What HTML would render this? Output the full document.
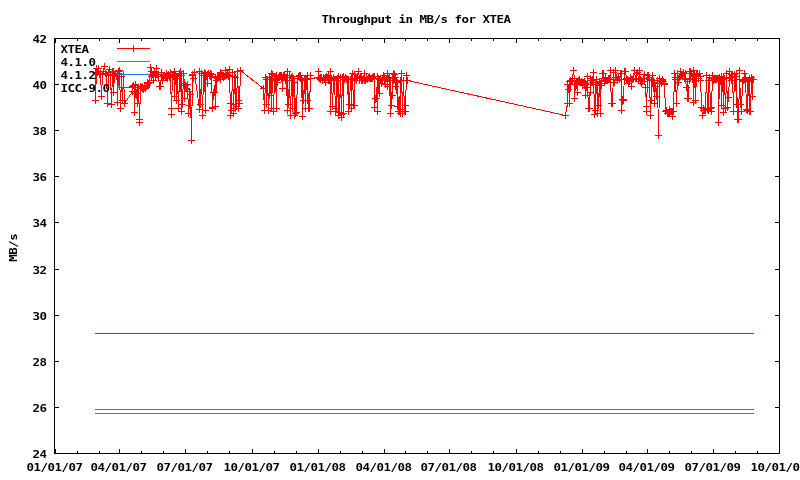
<!DOCTYPE html>
<html><head><meta charset="utf-8"><title>Throughput in MB/s for XTEA</title>
<style>
html,body{margin:0;padding:0;background:#fff;overflow:hidden}
svg{display:block}
</style></head>
<body>
<svg width="800" height="480" viewBox="0 0 800 480">
<rect width="800" height="480" fill="#fff"/>
<g shape-rendering="crispEdges" fill="none" stroke-width="1">
<polyline stroke="#f00" points="95.5,72.5 95.5,100.5 96.5,68.5 97.5,72.5 98.5,68.5 99.5,74.5 100.5,73.5 101.5,96.5 102.5,74.5 103.5,71.5 104.5,66.5 105.5,73.5 106.5,74.5 107.5,103.5 108.5,72.5 109.5,69.5 110.5,75.5 111.5,104.5 112.5,71.5 113.5,71.5 113.5,92.5 114.5,74.5 115.5,73.5 116.5,76.5 117.5,73.5 117.5,102.5 118.5,71.5 119.5,70.5 120.5,108.5 121.5,76.5 122.5,100.5 123.5,74.5 124.5,103.5 132.5,91.5 132.5,86.5 133.5,85.5 134.5,87.5 134.5,112.5 135.5,84.5 136.5,93.5 137.5,103.5 137.5,87.5 138.5,87.5 139.5,119.5 139.5,122.5 140.5,86.5 141.5,87.5 142.5,88.5 142.5,86.5 143.5,89.5 144.5,85.5 144.5,87.5 145.5,88.5 146.5,86.5 147.5,85.5 147.5,82.5 148.5,83.5 149.5,82.5 150.5,67.5 151.5,76.5 151.5,71.5 152.5,74.5 153.5,80.5 153.5,75.5 154.5,71.5 155.5,76.5 156.5,68.5 156.5,74.5 157.5,74.5 158.5,74.5 158.5,76.5 159.5,86.5 160.5,86.5 161.5,74.5 161.5,72.5 162.5,80.5 163.5,76.5 163.5,75.5 164.5,75.5 165.5,77.5 166.5,73.5 166.5,77.5 167.5,78.5 168.5,74.5 169.5,76.5 169.5,77.5 170.5,72.5 171.5,114.5 171.5,108.5 172.5,75.5 173.5,76.5 174.5,71.5 174.5,96.5 175.5,74.5 176.5,76.5 176.5,100.5 177.5,78.5 178.5,108.5 179.5,75.5 179.5,73.5 180.5,71.5 181.5,111.5 181.5,75.5 182.5,104.5 183.5,73.5 184.5,83.5 184.5,98.5 185.5,85.5 186.5,88.5 187.5,89.5 187.5,84.5 188.5,113.5 189.5,91.5 189.5,105.5 190.5,94.5 191.5,140.5 192.5,74.5 192.5,75.5 193.5,78.5 194.5,72.5 199.5,109.5 199.5,71.5 200.5,104.5 201.5,73.5 202.5,115.5 202.5,115.5 203.5,75.5 204.5,72.5 205.5,110.5 205.5,73.5 206.5,75.5 207.5,83.5 207.5,74.5 208.5,73.5 209.5,75.5 210.5,73.5 210.5,76.5 211.5,74.5 212.5,108.5 212.5,107.5 213.5,92.5 214.5,92.5 215.5,77.5 215.5,106.5 216.5,80.5 217.5,78.5 217.5,76.5 218.5,77.5 219.5,77.5 220.5,79.5 220.5,72.5 221.5,73.5 222.5,76.5 223.5,76.5 223.5,77.5 224.5,76.5 225.5,70.5 225.5,75.5 226.5,75.5 227.5,74.5 228.5,75.5 228.5,76.5 229.5,69.5 230.5,115.5 230.5,103.5 231.5,110.5 232.5,72.5 233.5,104.5 233.5,113.5 234.5,76.5 235.5,108.5 235.5,77.5 236.5,106.5 237.5,71.5 238.5,100.5 238.5,108.5 239.5,103.5 240.5,70.5 263.5,88.5 264.5,110.5 264.5,110.5 265.5,77.5 266.5,104.5 266.5,79.5 267.5,79.5 268.5,110.5 269.5,77.5 269.5,95.5 270.5,79.5 271.5,108.5 271.5,73.5 272.5,74.5 273.5,111.5 274.5,78.5 274.5,80.5 275.5,76.5 276.5,108.5 276.5,75.5 277.5,82.5 278.5,77.5 279.5,77.5 279.5,75.5 280.5,75.5 281.5,75.5 282.5,88.5 282.5,79.5 283.5,75.5 284.5,74.5 284.5,76.5 285.5,80.5 286.5,80.5 287.5,110.5 287.5,71.5 288.5,104.5 289.5,75.5 289.5,80.5 290.5,115.5 291.5,77.5 292.5,108.5 292.5,76.5 293.5,78.5 294.5,115.5 294.5,82.5 295.5,113.5 296.5,112.5 297.5,78.5 297.5,78.5 298.5,76.5 299.5,75.5 300.5,75.5 300.5,78.5 301.5,79.5 302.5,116.5 302.5,80.5 303.5,100.5 304.5,79.5 305.5,108.5 305.5,79.5 306.5,79.5 307.5,100.5 307.5,75.5 308.5,108.5 309.5,108.5 310.5,75.5 310.5,78.5 318.5,77.5 318.5,71.5 319.5,78.5 320.5,77.5 320.5,79.5 321.5,77.5 322.5,80.5 323.5,77.5 323.5,77.5 324.5,78.5 325.5,77.5 325.5,82.5 326.5,76.5 327.5,77.5 328.5,80.5 328.5,75.5 329.5,80.5 330.5,71.5 330.5,111.5 331.5,78.5 332.5,106.5 333.5,79.5 333.5,77.5 334.5,79.5 335.5,111.5 336.5,80.5 336.5,108.5 337.5,78.5 338.5,115.5 338.5,76.5 339.5,112.5 340.5,77.5 341.5,117.5 341.5,114.5 342.5,77.5 343.5,113.5 343.5,76.5 344.5,79.5 345.5,77.5 346.5,78.5 346.5,79.5 347.5,79.5 348.5,111.5 348.5,79.5 349.5,104.5 350.5,79.5 351.5,78.5 351.5,108.5 352.5,73.5 353.5,105.5 354.5,105.5 354.5,74.5 355.5,78.5 356.5,78.5 356.5,80.5 357.5,76.5 358.5,71.5 359.5,78.5 359.5,80.5 360.5,76.5 361.5,77.5 361.5,80.5 362.5,80.5 363.5,78.5 364.5,73.5 364.5,80.5 365.5,80.5 366.5,77.5 366.5,78.5 367.5,79.5 368.5,77.5 369.5,78.5 369.5,76.5 370.5,78.5 371.5,78.5 372.5,78.5 372.5,77.5 373.5,76.5 374.5,76.5 374.5,107.5 375.5,98.5 376.5,98.5 377.5,76.5 377.5,111.5 378.5,78.5 379.5,93.5 379.5,79.5 380.5,79.5 381.5,83.5 382.5,78.5 382.5,80.5 383.5,75.5 384.5,77.5 384.5,79.5 385.5,84.5 386.5,78.5 387.5,73.5 387.5,86.5 388.5,78.5 389.5,77.5 390.5,113.5 390.5,80.5 391.5,105.5 392.5,78.5 392.5,95.5 393.5,73.5 394.5,74.5 395.5,86.5 395.5,77.5 396.5,81.5 397.5,106.5 397.5,82.5 398.5,111.5 399.5,111.5 400.5,80.5 400.5,113.5 401.5,73.5 402.5,109.5 402.5,113.5 403.5,80.5 404.5,111.5 405.5,111.5 405.5,105.5 406.5,75.5 407.5,80.5 565.5,115.5 567.5,103.5 567.5,84.5 568.5,89.5 569.5,81.5 569.5,103.5 570.5,80.5 571.5,81.5 572.5,81.5 572.5,78.5 573.5,70.5 574.5,78.5 574.5,98.5 575.5,84.5 576.5,84.5 577.5,92.5 577.5,83.5 578.5,80.5 579.5,82.5 579.5,79.5 580.5,82.5 581.5,81.5 582.5,85.5 582.5,82.5 583.5,82.5 584.5,81.5 585.5,95.5 585.5,83.5 586.5,87.5 587.5,76.5 587.5,84.5 588.5,108.5 589.5,108.5 590.5,78.5 590.5,92.5 591.5,80.5 592.5,82.5 592.5,80.5 593.5,72.5 594.5,114.5 595.5,82.5 595.5,110.5 596.5,79.5 597.5,84.5 597.5,113.5 598.5,105.5 599.5,81.5 600.5,113.5 600.5,83.5 601.5,85.5 602.5,73.5 603.5,73.5 603.5,78.5 604.5,81.5 605.5,77.5 605.5,80.5 606.5,80.5 607.5,80.5 608.5,79.5 608.5,78.5 609.5,79.5 610.5,70.5 610.5,79.5 611.5,103.5 612.5,103.5 613.5,72.5 613.5,79.5 614.5,82.5 615.5,77.5 615.5,70.5 616.5,77.5 617.5,80.5 618.5,77.5 618.5,76.5 619.5,79.5 620.5,73.5 621.5,73.5 621.5,110.5 622.5,99.5 623.5,99.5 623.5,100.5 624.5,71.5 625.5,71.5 626.5,78.5 626.5,79.5 627.5,79.5 628.5,83.5 628.5,80.5 629.5,81.5 630.5,77.5 631.5,79.5 631.5,86.5 632.5,79.5 633.5,78.5 633.5,78.5 634.5,70.5 635.5,78.5 636.5,78.5 636.5,73.5 637.5,72.5 638.5,79.5 639.5,74.5 639.5,70.5 640.5,81.5 641.5,83.5 641.5,80.5 642.5,81.5 643.5,78.5 644.5,74.5 644.5,81.5 645.5,87.5 646.5,106.5 646.5,111.5 647.5,75.5 648.5,75.5 649.5,77.5 649.5,79.5 650.5,115.5 651.5,80.5 651.5,100.5 652.5,75.5 653.5,80.5 654.5,103.5 654.5,82.5 655.5,86.5 656.5,96.5 657.5,80.5 657.5,80.5 658.5,135.5 659.5,83.5 659.5,78.5 660.5,81.5 661.5,83.5 662.5,79.5 662.5,80.5 663.5,81.5 664.5,84.5 664.5,83.5 665.5,111.5 666.5,110.5 667.5,113.5 667.5,113.5 668.5,113.5 669.5,112.5 669.5,109.5 670.5,111.5 671.5,111.5 672.5,111.5 672.5,116.5 673.5,111.5 674.5,73.5 675.5,77.5 675.5,79.5 676.5,103.5 677.5,77.5 677.5,73.5 678.5,82.5 679.5,77.5 680.5,71.5 680.5,76.5 681.5,75.5 682.5,74.5 682.5,74.5 683.5,72.5 684.5,78.5 685.5,73.5 685.5,79.5 686.5,87.5 687.5,81.5 687.5,98.5 688.5,98.5 689.5,71.5 690.5,78.5 690.5,71.5 691.5,73.5 692.5,79.5 693.5,70.5 693.5,102.5 694.5,74.5 695.5,78.5 695.5,100.5 696.5,74.5 697.5,73.5 698.5,78.5 698.5,78.5 699.5,73.5 700.5,80.5 700.5,76.5 701.5,107.5 702.5,115.5 703.5,108.5 703.5,110.5 704.5,110.5 705.5,110.5 705.5,110.5 706.5,75.5 707.5,109.5 708.5,110.5 708.5,80.5 709.5,77.5 710.5,108.5 711.5,111.5 711.5,107.5 712.5,75.5 713.5,78.5 713.5,80.5 714.5,79.5 715.5,79.5 716.5,78.5 716.5,79.5 717.5,78.5 718.5,78.5 718.5,122.5 719.5,77.5 720.5,81.5 721.5,76.5 721.5,105.5 722.5,79.5 723.5,77.5 723.5,112.5 724.5,78.5 725.5,108.5 726.5,78.5 726.5,73.5 727.5,107.5 728.5,97.5 729.5,77.5 729.5,71.5 730.5,77.5 731.5,74.5 731.5,80.5 732.5,74.5 733.5,111.5 734.5,74.5 734.5,76.5 735.5,76.5 736.5,104.5 736.5,73.5 737.5,119.5 738.5,119.5 739.5,79.5 739.5,70.5 740.5,104.5 741.5,111.5 741.5,111.5 742.5,81.5 743.5,80.5 744.5,79.5 744.5,73.5 745.5,77.5 746.5,109.5 747.5,81.5 747.5,110.5 748.5,80.5 749.5,111.5 749.5,78.5 750.5,111.5 751.5,77.5 752.5,96.5 752.5,79.5 753.5,79.5"/>
<path stroke="#f00" d="M92 72.5h7M95.5 69v7M92 100.5h7M95.5 97v7M93 68.5h7M96.5 65v7M94 72.5h7M97.5 69v7M95 68.5h7M98.5 65v7M96 74.5h7M99.5 71v7M97 73.5h7M100.5 70v7M98 96.5h7M101.5 93v7M99 74.5h7M102.5 71v7M100 71.5h7M103.5 68v7M101 66.5h7M104.5 63v7M102 73.5h7M105.5 70v7M103 74.5h7M106.5 71v7M104 103.5h7M107.5 100v7M105 72.5h7M108.5 69v7M106 69.5h7M109.5 66v7M107 75.5h7M110.5 72v7M108 104.5h7M111.5 101v7M109 71.5h7M112.5 68v7M110 71.5h7M113.5 68v7M110 92.5h7M113.5 89v7M111 74.5h7M114.5 71v7M112 73.5h7M115.5 70v7M113 76.5h7M116.5 73v7M114 73.5h7M117.5 70v7M114 102.5h7M117.5 99v7M115 71.5h7M118.5 68v7M116 70.5h7M119.5 67v7M117 108.5h7M120.5 105v7M118 76.5h7M121.5 73v7M119 100.5h7M122.5 97v7M120 74.5h7M123.5 71v7M121 103.5h7M124.5 100v7M129 91.5h7M132.5 88v7M129 86.5h7M132.5 83v7M130 85.5h7M133.5 82v7M131 87.5h7M134.5 84v7M131 112.5h7M134.5 109v7M132 84.5h7M135.5 81v7M133 93.5h7M136.5 90v7M134 103.5h7M137.5 100v7M134 87.5h7M137.5 84v7M135 87.5h7M138.5 84v7M136 119.5h7M139.5 116v7M136 122.5h7M139.5 119v7M137 86.5h7M140.5 83v7M138 87.5h7M141.5 84v7M139 88.5h7M142.5 85v7M139 86.5h7M142.5 83v7M140 89.5h7M143.5 86v7M141 85.5h7M144.5 82v7M141 87.5h7M144.5 84v7M142 88.5h7M145.5 85v7M143 86.5h7M146.5 83v7M144 85.5h7M147.5 82v7M144 82.5h7M147.5 79v7M145 83.5h7M148.5 80v7M146 82.5h7M149.5 79v7M147 67.5h7M150.5 64v7M148 76.5h7M151.5 73v7M148 71.5h7M151.5 68v7M149 74.5h7M152.5 71v7M150 80.5h7M153.5 77v7M150 75.5h7M153.5 72v7M151 71.5h7M154.5 68v7M152 76.5h7M155.5 73v7M153 68.5h7M156.5 65v7M153 74.5h7M156.5 71v7M154 74.5h7M157.5 71v7M155 74.5h7M158.5 71v7M155 76.5h7M158.5 73v7M156 86.5h7M159.5 83v7M157 86.5h7M160.5 83v7M158 74.5h7M161.5 71v7M158 72.5h7M161.5 69v7M159 80.5h7M162.5 77v7M160 76.5h7M163.5 73v7M160 75.5h7M163.5 72v7M161 75.5h7M164.5 72v7M162 77.5h7M165.5 74v7M163 73.5h7M166.5 70v7M163 77.5h7M166.5 74v7M164 78.5h7M167.5 75v7M165 74.5h7M168.5 71v7M166 76.5h7M169.5 73v7M166 77.5h7M169.5 74v7M167 72.5h7M170.5 69v7M168 114.5h7M171.5 111v7M168 108.5h7M171.5 105v7M169 75.5h7M172.5 72v7M170 76.5h7M173.5 73v7M171 71.5h7M174.5 68v7M171 96.5h7M174.5 93v7M172 74.5h7M175.5 71v7M173 76.5h7M176.5 73v7M173 100.5h7M176.5 97v7M174 78.5h7M177.5 75v7M175 108.5h7M178.5 105v7M176 75.5h7M179.5 72v7M176 73.5h7M179.5 70v7M177 71.5h7M180.5 68v7M178 111.5h7M181.5 108v7M178 75.5h7M181.5 72v7M179 104.5h7M182.5 101v7M180 73.5h7M183.5 70v7M181 83.5h7M184.5 80v7M181 98.5h7M184.5 95v7M182 85.5h7M185.5 82v7M183 88.5h7M186.5 85v7M184 89.5h7M187.5 86v7M184 84.5h7M187.5 81v7M185 113.5h7M188.5 110v7M186 91.5h7M189.5 88v7M186 105.5h7M189.5 102v7M187 94.5h7M190.5 91v7M188 140.5h7M191.5 137v7M189 74.5h7M192.5 71v7M189 75.5h7M192.5 72v7M190 78.5h7M193.5 75v7M191 72.5h7M194.5 69v7M196 109.5h7M199.5 106v7M196 71.5h7M199.5 68v7M197 104.5h7M200.5 101v7M198 73.5h7M201.5 70v7M199 115.5h7M202.5 112v7M200 75.5h7M203.5 72v7M201 72.5h7M204.5 69v7M202 110.5h7M205.5 107v7M202 73.5h7M205.5 70v7M203 75.5h7M206.5 72v7M204 83.5h7M207.5 80v7M204 74.5h7M207.5 71v7M205 73.5h7M208.5 70v7M206 75.5h7M209.5 72v7M207 73.5h7M210.5 70v7M207 76.5h7M210.5 73v7M208 74.5h7M211.5 71v7M209 108.5h7M212.5 105v7M209 107.5h7M212.5 104v7M210 92.5h7M213.5 89v7M211 92.5h7M214.5 89v7M212 77.5h7M215.5 74v7M212 106.5h7M215.5 103v7M213 80.5h7M216.5 77v7M214 78.5h7M217.5 75v7M214 76.5h7M217.5 73v7M215 77.5h7M218.5 74v7M216 77.5h7M219.5 74v7M217 79.5h7M220.5 76v7M217 72.5h7M220.5 69v7M218 73.5h7M221.5 70v7M219 76.5h7M222.5 73v7M220 76.5h7M223.5 73v7M220 77.5h7M223.5 74v7M221 76.5h7M224.5 73v7M222 70.5h7M225.5 67v7M222 75.5h7M225.5 72v7M223 75.5h7M226.5 72v7M224 74.5h7M227.5 71v7M225 75.5h7M228.5 72v7M225 76.5h7M228.5 73v7M226 69.5h7M229.5 66v7M227 115.5h7M230.5 112v7M227 103.5h7M230.5 100v7M228 110.5h7M231.5 107v7M229 72.5h7M232.5 69v7M230 104.5h7M233.5 101v7M230 113.5h7M233.5 110v7M231 76.5h7M234.5 73v7M232 108.5h7M235.5 105v7M232 77.5h7M235.5 74v7M233 106.5h7M236.5 103v7M234 71.5h7M237.5 68v7M235 100.5h7M238.5 97v7M235 108.5h7M238.5 105v7M236 103.5h7M239.5 100v7M237 70.5h7M240.5 67v7M260 88.5h7M263.5 85v7M261 110.5h7M264.5 107v7M262 77.5h7M265.5 74v7M263 104.5h7M266.5 101v7M263 79.5h7M266.5 76v7M264 79.5h7M267.5 76v7M265 110.5h7M268.5 107v7M266 77.5h7M269.5 74v7M266 95.5h7M269.5 92v7M267 79.5h7M270.5 76v7M268 108.5h7M271.5 105v7M268 73.5h7M271.5 70v7M269 74.5h7M272.5 71v7M270 111.5h7M273.5 108v7M271 78.5h7M274.5 75v7M271 80.5h7M274.5 77v7M272 76.5h7M275.5 73v7M273 108.5h7M276.5 105v7M273 75.5h7M276.5 72v7M274 82.5h7M277.5 79v7M275 77.5h7M278.5 74v7M276 77.5h7M279.5 74v7M276 75.5h7M279.5 72v7M277 75.5h7M280.5 72v7M278 75.5h7M281.5 72v7M279 88.5h7M282.5 85v7M279 79.5h7M282.5 76v7M280 75.5h7M283.5 72v7M281 74.5h7M284.5 71v7M281 76.5h7M284.5 73v7M282 80.5h7M285.5 77v7M283 80.5h7M286.5 77v7M284 110.5h7M287.5 107v7M284 71.5h7M287.5 68v7M285 104.5h7M288.5 101v7M286 75.5h7M289.5 72v7M286 80.5h7M289.5 77v7M287 115.5h7M290.5 112v7M288 77.5h7M291.5 74v7M289 108.5h7M292.5 105v7M289 76.5h7M292.5 73v7M290 78.5h7M293.5 75v7M291 115.5h7M294.5 112v7M291 82.5h7M294.5 79v7M292 113.5h7M295.5 110v7M293 112.5h7M296.5 109v7M294 78.5h7M297.5 75v7M295 76.5h7M298.5 73v7M296 75.5h7M299.5 72v7M297 75.5h7M300.5 72v7M297 78.5h7M300.5 75v7M298 79.5h7M301.5 76v7M299 116.5h7M302.5 113v7M299 80.5h7M302.5 77v7M300 100.5h7M303.5 97v7M301 79.5h7M304.5 76v7M302 108.5h7M305.5 105v7M302 79.5h7M305.5 76v7M303 79.5h7M306.5 76v7M304 100.5h7M307.5 97v7M304 75.5h7M307.5 72v7M305 108.5h7M308.5 105v7M306 108.5h7M309.5 105v7M307 75.5h7M310.5 72v7M307 78.5h7M310.5 75v7M315 77.5h7M318.5 74v7M315 71.5h7M318.5 68v7M316 78.5h7M319.5 75v7M317 77.5h7M320.5 74v7M317 79.5h7M320.5 76v7M318 77.5h7M321.5 74v7M319 80.5h7M322.5 77v7M320 77.5h7M323.5 74v7M321 78.5h7M324.5 75v7M322 77.5h7M325.5 74v7M322 82.5h7M325.5 79v7M323 76.5h7M326.5 73v7M324 77.5h7M327.5 74v7M325 80.5h7M328.5 77v7M325 75.5h7M328.5 72v7M326 80.5h7M329.5 77v7M327 71.5h7M330.5 68v7M327 111.5h7M330.5 108v7M328 78.5h7M331.5 75v7M329 106.5h7M332.5 103v7M330 79.5h7M333.5 76v7M330 77.5h7M333.5 74v7M331 79.5h7M334.5 76v7M332 111.5h7M335.5 108v7M333 80.5h7M336.5 77v7M333 108.5h7M336.5 105v7M334 78.5h7M337.5 75v7M335 115.5h7M338.5 112v7M335 76.5h7M338.5 73v7M336 112.5h7M339.5 109v7M337 77.5h7M340.5 74v7M338 117.5h7M341.5 114v7M338 114.5h7M341.5 111v7M339 77.5h7M342.5 74v7M340 113.5h7M343.5 110v7M340 76.5h7M343.5 73v7M341 79.5h7M344.5 76v7M342 77.5h7M345.5 74v7M343 78.5h7M346.5 75v7M343 79.5h7M346.5 76v7M344 79.5h7M347.5 76v7M345 111.5h7M348.5 108v7M345 79.5h7M348.5 76v7M346 104.5h7M349.5 101v7M347 79.5h7M350.5 76v7M348 78.5h7M351.5 75v7M348 108.5h7M351.5 105v7M349 73.5h7M352.5 70v7M350 105.5h7M353.5 102v7M351 105.5h7M354.5 102v7M351 74.5h7M354.5 71v7M352 78.5h7M355.5 75v7M353 78.5h7M356.5 75v7M353 80.5h7M356.5 77v7M354 76.5h7M357.5 73v7M355 71.5h7M358.5 68v7M356 78.5h7M359.5 75v7M356 80.5h7M359.5 77v7M357 76.5h7M360.5 73v7M358 77.5h7M361.5 74v7M358 80.5h7M361.5 77v7M359 80.5h7M362.5 77v7M360 78.5h7M363.5 75v7M361 73.5h7M364.5 70v7M361 80.5h7M364.5 77v7M362 80.5h7M365.5 77v7M363 77.5h7M366.5 74v7M363 78.5h7M366.5 75v7M364 79.5h7M367.5 76v7M365 77.5h7M368.5 74v7M366 78.5h7M369.5 75v7M366 76.5h7M369.5 73v7M367 78.5h7M370.5 75v7M368 78.5h7M371.5 75v7M369 78.5h7M372.5 75v7M369 77.5h7M372.5 74v7M370 76.5h7M373.5 73v7M371 76.5h7M374.5 73v7M371 107.5h7M374.5 104v7M372 98.5h7M375.5 95v7M373 98.5h7M376.5 95v7M374 76.5h7M377.5 73v7M374 111.5h7M377.5 108v7M375 78.5h7M378.5 75v7M376 93.5h7M379.5 90v7M376 79.5h7M379.5 76v7M377 79.5h7M380.5 76v7M378 83.5h7M381.5 80v7M379 78.5h7M382.5 75v7M379 80.5h7M382.5 77v7M380 75.5h7M383.5 72v7M381 77.5h7M384.5 74v7M381 79.5h7M384.5 76v7M382 84.5h7M385.5 81v7M383 78.5h7M386.5 75v7M384 73.5h7M387.5 70v7M384 86.5h7M387.5 83v7M385 78.5h7M388.5 75v7M386 77.5h7M389.5 74v7M387 113.5h7M390.5 110v7M387 80.5h7M390.5 77v7M388 105.5h7M391.5 102v7M389 78.5h7M392.5 75v7M389 95.5h7M392.5 92v7M390 73.5h7M393.5 70v7M391 74.5h7M394.5 71v7M392 86.5h7M395.5 83v7M392 77.5h7M395.5 74v7M393 81.5h7M396.5 78v7M394 106.5h7M397.5 103v7M394 82.5h7M397.5 79v7M395 111.5h7M398.5 108v7M396 111.5h7M399.5 108v7M397 80.5h7M400.5 77v7M397 113.5h7M400.5 110v7M398 73.5h7M401.5 70v7M399 109.5h7M402.5 106v7M399 113.5h7M402.5 110v7M400 80.5h7M403.5 77v7M401 111.5h7M404.5 108v7M402 111.5h7M405.5 108v7M402 105.5h7M405.5 102v7M403 75.5h7M406.5 72v7M404 80.5h7M407.5 77v7M562 115.5h7M565.5 112v7M564 103.5h7M567.5 100v7M564 84.5h7M567.5 81v7M565 89.5h7M568.5 86v7M566 81.5h7M569.5 78v7M566 103.5h7M569.5 100v7M567 80.5h7M570.5 77v7M568 81.5h7M571.5 78v7M569 81.5h7M572.5 78v7M569 78.5h7M572.5 75v7M570 70.5h7M573.5 67v7M571 78.5h7M574.5 75v7M571 98.5h7M574.5 95v7M572 84.5h7M575.5 81v7M573 84.5h7M576.5 81v7M574 92.5h7M577.5 89v7M574 83.5h7M577.5 80v7M575 80.5h7M578.5 77v7M576 82.5h7M579.5 79v7M576 79.5h7M579.5 76v7M577 82.5h7M580.5 79v7M578 81.5h7M581.5 78v7M579 85.5h7M582.5 82v7M579 82.5h7M582.5 79v7M580 82.5h7M583.5 79v7M581 81.5h7M584.5 78v7M582 95.5h7M585.5 92v7M582 83.5h7M585.5 80v7M583 87.5h7M586.5 84v7M584 76.5h7M587.5 73v7M584 84.5h7M587.5 81v7M585 108.5h7M588.5 105v7M586 108.5h7M589.5 105v7M587 78.5h7M590.5 75v7M587 92.5h7M590.5 89v7M588 80.5h7M591.5 77v7M589 82.5h7M592.5 79v7M589 80.5h7M592.5 77v7M590 72.5h7M593.5 69v7M591 114.5h7M594.5 111v7M592 82.5h7M595.5 79v7M592 110.5h7M595.5 107v7M593 79.5h7M596.5 76v7M594 84.5h7M597.5 81v7M594 113.5h7M597.5 110v7M595 105.5h7M598.5 102v7M596 81.5h7M599.5 78v7M597 113.5h7M600.5 110v7M597 83.5h7M600.5 80v7M598 85.5h7M601.5 82v7M599 73.5h7M602.5 70v7M600 73.5h7M603.5 70v7M600 78.5h7M603.5 75v7M601 81.5h7M604.5 78v7M602 77.5h7M605.5 74v7M602 80.5h7M605.5 77v7M603 80.5h7M606.5 77v7M604 80.5h7M607.5 77v7M605 79.5h7M608.5 76v7M605 78.5h7M608.5 75v7M606 79.5h7M609.5 76v7M607 70.5h7M610.5 67v7M607 79.5h7M610.5 76v7M608 103.5h7M611.5 100v7M609 103.5h7M612.5 100v7M610 72.5h7M613.5 69v7M610 79.5h7M613.5 76v7M611 82.5h7M614.5 79v7M612 77.5h7M615.5 74v7M612 70.5h7M615.5 67v7M613 77.5h7M616.5 74v7M614 80.5h7M617.5 77v7M615 77.5h7M618.5 74v7M615 76.5h7M618.5 73v7M616 79.5h7M619.5 76v7M617 73.5h7M620.5 70v7M618 73.5h7M621.5 70v7M618 110.5h7M621.5 107v7M619 99.5h7M622.5 96v7M620 99.5h7M623.5 96v7M620 100.5h7M623.5 97v7M621 71.5h7M624.5 68v7M622 71.5h7M625.5 68v7M623 78.5h7M626.5 75v7M623 79.5h7M626.5 76v7M624 79.5h7M627.5 76v7M625 83.5h7M628.5 80v7M625 80.5h7M628.5 77v7M626 81.5h7M629.5 78v7M627 77.5h7M630.5 74v7M628 79.5h7M631.5 76v7M628 86.5h7M631.5 83v7M629 79.5h7M632.5 76v7M630 78.5h7M633.5 75v7M631 70.5h7M634.5 67v7M632 78.5h7M635.5 75v7M633 78.5h7M636.5 75v7M633 73.5h7M636.5 70v7M634 72.5h7M637.5 69v7M635 79.5h7M638.5 76v7M636 74.5h7M639.5 71v7M636 70.5h7M639.5 67v7M637 81.5h7M640.5 78v7M638 83.5h7M641.5 80v7M638 80.5h7M641.5 77v7M639 81.5h7M642.5 78v7M640 78.5h7M643.5 75v7M641 74.5h7M644.5 71v7M641 81.5h7M644.5 78v7M642 87.5h7M645.5 84v7M643 106.5h7M646.5 103v7M643 111.5h7M646.5 108v7M644 75.5h7M647.5 72v7M645 75.5h7M648.5 72v7M646 77.5h7M649.5 74v7M646 79.5h7M649.5 76v7M647 115.5h7M650.5 112v7M648 80.5h7M651.5 77v7M648 100.5h7M651.5 97v7M649 75.5h7M652.5 72v7M650 80.5h7M653.5 77v7M651 103.5h7M654.5 100v7M651 82.5h7M654.5 79v7M652 86.5h7M655.5 83v7M653 96.5h7M656.5 93v7M654 80.5h7M657.5 77v7M655 135.5h7M658.5 132v7M656 83.5h7M659.5 80v7M656 78.5h7M659.5 75v7M657 81.5h7M660.5 78v7M658 83.5h7M661.5 80v7M659 79.5h7M662.5 76v7M659 80.5h7M662.5 77v7M660 81.5h7M663.5 78v7M661 84.5h7M664.5 81v7M661 83.5h7M664.5 80v7M662 111.5h7M665.5 108v7M663 110.5h7M666.5 107v7M664 113.5h7M667.5 110v7M665 113.5h7M668.5 110v7M666 112.5h7M669.5 109v7M666 109.5h7M669.5 106v7M667 111.5h7M670.5 108v7M668 111.5h7M671.5 108v7M669 111.5h7M672.5 108v7M669 116.5h7M672.5 113v7M670 111.5h7M673.5 108v7M671 73.5h7M674.5 70v7M672 77.5h7M675.5 74v7M672 79.5h7M675.5 76v7M673 103.5h7M676.5 100v7M674 77.5h7M677.5 74v7M674 73.5h7M677.5 70v7M675 82.5h7M678.5 79v7M676 77.5h7M679.5 74v7M677 71.5h7M680.5 68v7M677 76.5h7M680.5 73v7M678 75.5h7M681.5 72v7M679 74.5h7M682.5 71v7M680 72.5h7M683.5 69v7M681 78.5h7M684.5 75v7M682 73.5h7M685.5 70v7M682 79.5h7M685.5 76v7M683 87.5h7M686.5 84v7M684 81.5h7M687.5 78v7M684 98.5h7M687.5 95v7M685 98.5h7M688.5 95v7M686 71.5h7M689.5 68v7M687 78.5h7M690.5 75v7M687 71.5h7M690.5 68v7M688 73.5h7M691.5 70v7M689 79.5h7M692.5 76v7M690 70.5h7M693.5 67v7M690 102.5h7M693.5 99v7M691 74.5h7M694.5 71v7M692 78.5h7M695.5 75v7M692 100.5h7M695.5 97v7M693 74.5h7M696.5 71v7M694 73.5h7M697.5 70v7M695 78.5h7M698.5 75v7M696 73.5h7M699.5 70v7M697 80.5h7M700.5 77v7M697 76.5h7M700.5 73v7M698 107.5h7M701.5 104v7M699 115.5h7M702.5 112v7M700 108.5h7M703.5 105v7M700 110.5h7M703.5 107v7M701 110.5h7M704.5 107v7M702 110.5h7M705.5 107v7M703 75.5h7M706.5 72v7M704 109.5h7M707.5 106v7M705 110.5h7M708.5 107v7M705 80.5h7M708.5 77v7M706 77.5h7M709.5 74v7M707 108.5h7M710.5 105v7M708 111.5h7M711.5 108v7M708 107.5h7M711.5 104v7M709 75.5h7M712.5 72v7M710 78.5h7M713.5 75v7M710 80.5h7M713.5 77v7M711 79.5h7M714.5 76v7M712 79.5h7M715.5 76v7M713 78.5h7M716.5 75v7M713 79.5h7M716.5 76v7M714 78.5h7M717.5 75v7M715 78.5h7M718.5 75v7M715 122.5h7M718.5 119v7M716 77.5h7M719.5 74v7M717 81.5h7M720.5 78v7M718 76.5h7M721.5 73v7M718 105.5h7M721.5 102v7M719 79.5h7M722.5 76v7M720 77.5h7M723.5 74v7M720 112.5h7M723.5 109v7M721 78.5h7M724.5 75v7M722 108.5h7M725.5 105v7M723 78.5h7M726.5 75v7M723 73.5h7M726.5 70v7M724 107.5h7M727.5 104v7M725 97.5h7M728.5 94v7M726 77.5h7M729.5 74v7M726 71.5h7M729.5 68v7M727 77.5h7M730.5 74v7M728 74.5h7M731.5 71v7M728 80.5h7M731.5 77v7M729 74.5h7M732.5 71v7M730 111.5h7M733.5 108v7M731 74.5h7M734.5 71v7M731 76.5h7M734.5 73v7M732 76.5h7M735.5 73v7M733 104.5h7M736.5 101v7M733 73.5h7M736.5 70v7M734 119.5h7M737.5 116v7M735 119.5h7M738.5 116v7M736 79.5h7M739.5 76v7M736 70.5h7M739.5 67v7M737 104.5h7M740.5 101v7M738 111.5h7M741.5 108v7M739 81.5h7M742.5 78v7M740 80.5h7M743.5 77v7M741 79.5h7M744.5 76v7M741 73.5h7M744.5 70v7M742 77.5h7M745.5 74v7M743 109.5h7M746.5 106v7M744 81.5h7M747.5 78v7M744 110.5h7M747.5 107v7M745 80.5h7M748.5 77v7M746 111.5h7M749.5 108v7M746 78.5h7M749.5 75v7M747 111.5h7M750.5 108v7M748 77.5h7M751.5 74v7M749 96.5h7M752.5 93v7M749 79.5h7M752.5 76v7M750 79.5h7M753.5 76v7"/>
<path stroke="#f00" d="M117 48.5h33M133.5 45v7"/>
<path stroke="#00c000" d="M117 61.5h33M95 413.5h659"/>
<path stroke="#0080ff" d="M117 74.5h33M95 409.5h659"/>
<path stroke="#c000ff" d="M117 87.5h33M95 333.5h659"/>
<path stroke="#000" d="M54.5 38.5H779.5V453.5H54.5Z"/>
<path stroke="#000" d="M55.5 454V449M55.5 38V43M119.5 454V449M119.5 38V43M185.5 454V449M185.5 38V43M252.5 454V449M252.5 38V43M318.5 454V449M318.5 38V43M384.5 454V449M384.5 38V43M449.5 454V449M449.5 38V43M516.5 454V449M516.5 38V43M582.5 454V449M582.5 38V43M647.5 454V449M647.5 38V43M713.5 454V449M713.5 38V43M779.5 454V449M779.5 38V43M77.5 454V451M77.5 38V41M99.5 454V451M99.5 38V41M141.5 454V451M141.5 38V41M163.5 454V451M163.5 38V41M207.5 454V451M207.5 38V41M229.5 454V451M229.5 38V41M274.5 454V451M274.5 38V41M296.5 454V451M296.5 38V41M340.5 454V451M340.5 38V41M362.5 454V451M362.5 38V41M405.5 454V451M405.5 38V41M427.5 454V451M427.5 38V41M471.5 454V451M471.5 38V41M493.5 454V451M493.5 38V41M538.5 454V451M538.5 38V41M560.5 454V451M560.5 38V41M604.5 454V451M604.5 38V41M626.5 454V451M626.5 38V41M669.5 454V451M669.5 38V41M691.5 454V451M691.5 38V41M735.5 454V451M735.5 38V41M757.5 454V451M757.5 38V41M54 38.5H59M780 38.5H775M54 84.5H59M780 84.5H775M54 130.5H59M780 130.5H775M54 176.5H59M780 176.5H775M54 222.5H59M780 222.5H775M54 269.5H59M780 269.5H775M54 315.5H59M780 315.5H775M54 361.5H59M780 361.5H775M54 407.5H59M780 407.5H775M54 453.5H59M780 453.5H775"/>
</g>
<g fill="#000" font-family="'DejaVu Sans Mono','Liberation Mono',monospace" font-weight="bold" font-size="12.5" letter-spacing="-0.52">
<text transform="translate(46.5,43) scale(1,0.88)" text-anchor="end">42</text>
<text transform="translate(46.5,89) scale(1,0.88)" text-anchor="end">40</text>
<text transform="translate(46.5,135) scale(1,0.88)" text-anchor="end">38</text>
<text transform="translate(46.5,181) scale(1,0.88)" text-anchor="end">36</text>
<text transform="translate(46.5,227) scale(1,0.88)" text-anchor="end">34</text>
<text transform="translate(46.5,274) scale(1,0.88)" text-anchor="end">32</text>
<text transform="translate(46.5,320) scale(1,0.88)" text-anchor="end">30</text>
<text transform="translate(46.5,366) scale(1,0.88)" text-anchor="end">28</text>
<text transform="translate(46.5,412) scale(1,0.88)" text-anchor="end">26</text>
<text transform="translate(46.5,458) scale(1,0.88)" text-anchor="end">24</text>
<text transform="translate(54.5,470.7) scale(1,0.88)" text-anchor="middle">01/01/07</text>
<text transform="translate(118.5,470.7) scale(1,0.88)" text-anchor="middle">04/01/07</text>
<text transform="translate(184.5,470.7) scale(1,0.88)" text-anchor="middle">07/01/07</text>
<text transform="translate(251.5,470.7) scale(1,0.88)" text-anchor="middle">10/01/07</text>
<text transform="translate(317.5,470.7) scale(1,0.88)" text-anchor="middle">01/01/08</text>
<text transform="translate(383.5,470.7) scale(1,0.88)" text-anchor="middle">04/01/08</text>
<text transform="translate(448.5,470.7) scale(1,0.88)" text-anchor="middle">07/01/08</text>
<text transform="translate(515.5,470.7) scale(1,0.88)" text-anchor="middle">10/01/08</text>
<text transform="translate(581.5,470.7) scale(1,0.88)" text-anchor="middle">01/01/09</text>
<text transform="translate(646.5,470.7) scale(1,0.88)" text-anchor="middle">04/01/09</text>
<text transform="translate(712.5,470.7) scale(1,0.88)" text-anchor="middle">07/01/09</text>
<text transform="translate(778.5,470.7) scale(1,0.88)" text-anchor="middle">10/01/09</text>
<text transform="translate(416,23) scale(1,0.88)" text-anchor="middle">Throughput in MB/s for XTEA</text>
<text transform="translate(17.3,247.8) rotate(-90) scale(1,0.88)" text-anchor="middle">MB/s</text>
<text transform="translate(60.5,53) scale(1,0.88)">XTEA</text>
<text transform="translate(60.5,66) scale(1,0.88)">4.1.0</text>
<text transform="translate(60.5,79) scale(1,0.88)">4.1.2</text>
<text transform="translate(60.5,92) scale(1,0.88)">ICC-9.0</text>
</g>
</svg>
</body></html>
